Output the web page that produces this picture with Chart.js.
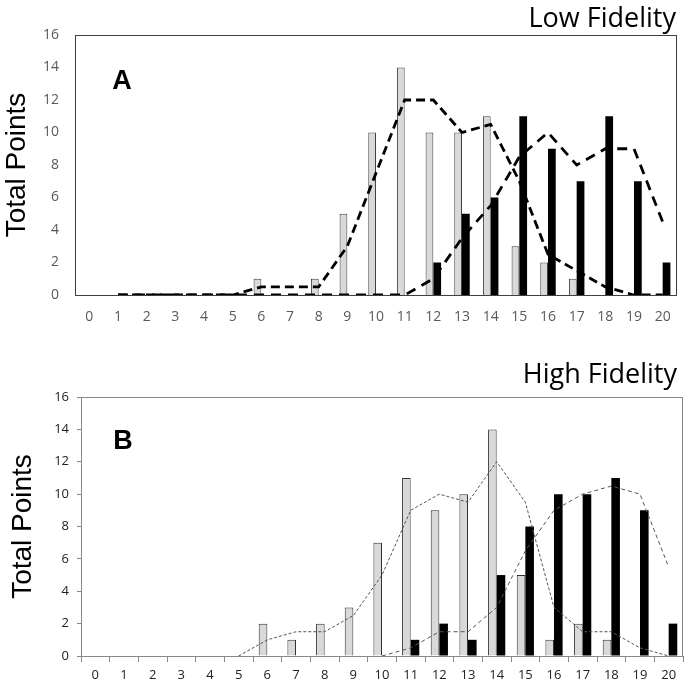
<!DOCTYPE html>
<html lang="en">
<head>
    <meta charset="UTF-8">
    <title>Total Points - Low / High Fidelity</title>
    <script src="https://cdn.jsdelivr.net/npm/chart.js"></script>
    <style>
        body {
            margin: 0;
            background: #fff;
        }
        .panel {
            position: absolute;
            left: 0;
            width: 685px;
        }
        #panelA { top: 0; height: 330px; }
        #panelB { top: 330px; height: 352px; }
    </style>
</head>
<body>
    <div class="panel" id="panelA"><canvas id="chartA"></canvas></div>
    <div class="panel" id="panelB"><canvas id="chartB"></canvas></div>

    <script>
        const categories = ['0', '1', '2', '3', '4', '5', '6', '7', '8', '9', '10',
                            '11', '12', '13', '14', '15', '16', '17', '18', '19', '20'];

        // panel A - low fidelity
        const lowLight = [0, 0, 0, 0, 0, 0, 1, 0, 1, 5, 10, 14, 10, 10, 11, 3, 2, 1, 0, 0, 0];
        const lowDark = [0, 0, 0, 0, 0, 0, 0, 0, 0, 0, 0, 0, 2, 5, 6, 11, 9, 7, 11, 7, 2];
        const lowLightTrend = [null, 0, 0, 0, 0, 0, 0.5, 0.5, 0.5, 3, 7.5, 12, 12, 10, 10.5, 7, 2.5, 1.5, 0.5, 0, 0];
        const lowDarkTrend = [null, 0, 0, 0, 0, 0, 0, 0, 0, 0, 0, 0, 1, 3.5, 5.5, 8.5, 10, 8, 9, 9, 4.5];

        // panel B - high fidelity
        const highLight = [0, 0, 0, 0, 0, 0, 2, 1, 2, 3, 7, 11, 9, 10, 14, 5, 1, 2, 1, 0, 0];
        const highDark = [0, 0, 0, 0, 0, 0, 0, 0, 0, 0, 0, 1, 2, 1, 5, 8, 10, 10, 11, 9, 2];
        const highLightTrend = [null, null, null, null, null, 0, 1, 1.5, 1.5, 2.5, 5, 9, 10, 9.5, 12, 9.5, 3, 1.5, 1.5, 0.5, 0];
        const highDarkTrend = [null, null, null, null, null, null, null, null, null, null, 0, 0.5, 1.5, 1.5, 3, 6.5, 9, 10, 10.5, 10, 5.5];

        const yTicks = { min: 0, max: 16, step: 2 };

        // frame, panel letter and panel title
        const panelDecor = {
            id: 'panelDecor',
            afterDatasetsDraw(chart, args, opts) {
                const { ctx, chartArea } = chart;
                ctx.save();
                ctx.strokeStyle = opts.frameColor;
                ctx.lineWidth = 1;
                ctx.strokeRect(Math.round(chartArea.left) + 0.5, Math.round(chartArea.top) + 0.5,
                               Math.round(chartArea.width) - 1, Math.round(chartArea.height));
                ctx.fillStyle = '#000';
                ctx.textAlign = 'center';
                ctx.textBaseline = 'middle';
                ctx.font = 'bold 27px "Liberation Sans", Arial, sans-serif';
                ctx.fillText(opts.letter, chartArea.left + opts.letterX, chartArea.top + opts.letterY);
                ctx.textAlign = 'right';
                ctx.textBaseline = 'alphabetic';
                ctx.font = '27px "Open Sans", sans-serif';
                ctx.fillText(opts.title, opts.titleX, opts.titleY);
                ctx.restore();
            }
        };

        function makeChart(id, cfg) {
            const ctx = document.getElementById(id).getContext('2d');
            return new Chart(ctx, {
                type: 'bar',
                data: {
                    labels: categories,
                    datasets: [
                        {
                            type: 'line',
                            data: cfg.lightTrend,
                            borderColor: cfg.lineColor,
                            borderWidth: cfg.lineWidth,
                            borderDash: cfg.dashLight,
                            pointRadius: 0,
                            tension: 0,
                            order: 0
                        },
                        {
                            type: 'line',
                            data: cfg.darkTrend,
                            borderColor: cfg.lineColor,
                            borderWidth: cfg.lineWidth,
                            borderDash: cfg.dashDark,
                            pointRadius: 0,
                            tension: 0,
                            order: 0
                        },
                        {
                            data: cfg.light,
                            backgroundColor: '#d9d9d9',
                            borderColor: cfg.barEdge,
                            borderWidth: 1,
                            categoryPercentage: cfg.catPct,
                            barPercentage: 1,
                            order: 1
                        },
                        {
                            data: cfg.dark,
                            backgroundColor: '#000',
                            borderColor: '#000',
                            borderWidth: 0,
                            categoryPercentage: cfg.catPct,
                            barPercentage: 1,
                            order: 1
                        }
                    ]
                },
                options: {
                    responsive: true,
                    maintainAspectRatio: false,
                    animation: false,
                    layout: { padding: cfg.padding },
                    plugins: {
                        legend: { display: false },
                        tooltip: { enabled: false },
                        panelDecor: cfg.decor
                    },
                    scales: {
                        x: {
                            grid: {
                                display: cfg.tickMarks,
                                drawOnChartArea: false,
                                drawTicks: cfg.tickMarks,
                                tickLength: 6,
                                color: '#888'
                            },
                            border: { display: false },
                            ticks: {
                                color: cfg.tickColor,
                                font: { family: '"Open Sans", sans-serif', size: cfg.tickSize },
                                padding: cfg.xPad,
                                maxRotation: 0,
                                autoSkip: false
                            },
                            afterFit: s => { s.height = cfg.xHeight; }
                        },
                        y: {
                            min: yTicks.min,
                            max: yTicks.max,
                            grid: {
                                display: cfg.tickMarks,
                                drawOnChartArea: false,
                                drawTicks: cfg.tickMarks,
                                tickLength: 4,
                                color: '#888'
                            },
                            border: { display: false },
                            ticks: {
                                stepSize: yTicks.step,
                                color: cfg.tickColor,
                                font: { family: '"Open Sans", sans-serif', size: cfg.tickSize },
                                padding: cfg.yPad
                            },
                            title: {
                                display: true,
                                text: 'Total Points',
                                color: '#000',
                                font: { family: '"Liberation Sans", Arial, sans-serif', size: 28 },
                                padding: { top: cfg.yTitlePad, bottom: 0 }
                            },
                            afterFit: s => { s.width = cfg.yWidth; }
                        }
                    }
                },
                plugins: [panelDecor]
            });
        }

        makeChart('chartA', {
            light: lowLight, dark: lowDark,
            lightTrend: lowLightTrend, darkTrend: lowDarkTrend,
            lineColor: '#000', lineWidth: 2.8, dashLight: [9, 5], dashDark: [10, 7],
            barEdge: '#404040', catPct: 0.54,
            padding: { top: 35, right: 8, left: 0, bottom: 0 },
            tickMarks: false, tickColor: '#595959', tickSize: 14,
            xPad: 14, xHeight: 35, yPad: 16, yWidth: 75, yTitlePad: 0,
            decor: { frameColor: '#404040', letter: 'A', letterX: 47, letterY: 47,
                     title: 'Low Fidelity', titleX: 676, titleY: 27 }
        });

        makeChart('chartB', {
            light: highLight, dark: highDark,
            lightTrend: highLightTrend, darkTrend: highDarkTrend,
            lineColor: '#555', lineWidth: 1, dashLight: [3, 2], dashDark: [4, 3],
            barEdge: '#333', catPct: 0.6,
            padding: { top: 67, right: 2, left: 0, bottom: 0 },
            tickMarks: true, tickColor: '#222', tickSize: 13,
            xPad: 5, xHeight: 26, yPad: 8, yWidth: 81, yTitlePad: 6,
            decor: { frameColor: '#888', letter: 'B', letterX: 42, letterY: 45,
                     title: 'High Fidelity', titleX: 677, titleY: 53 }
        });
    </script>
</body>
</html>
